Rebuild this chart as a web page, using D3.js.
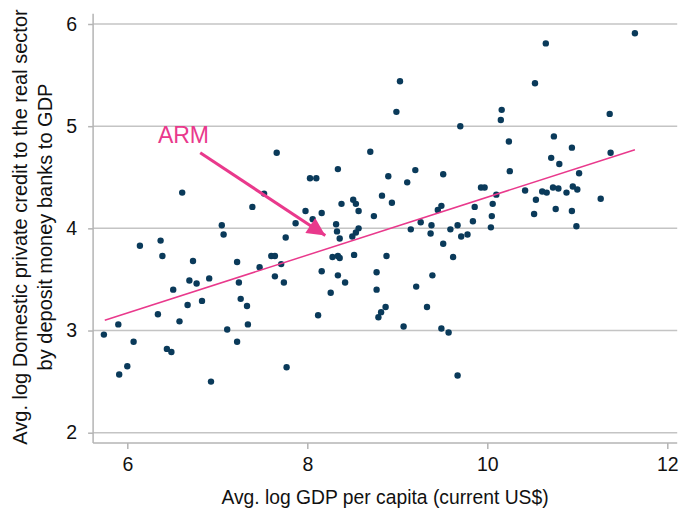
<!DOCTYPE html>
<html>
<head>
<meta charset="utf-8">
<script src="https://cdn.jsdelivr.net/npm/d3@7"></script>
<style>
  body { margin: 0; background: #fff; }
  text { font-family: "Liberation Sans", Arial, sans-serif; }
</style>
</head>
<body>
<div id="chart"></div>
<script>
// avg log GDP per capita, avg log private credit / GDP (one pair per country)
const gdp = [
  7.66, 6.61, 7.52, 7.39, 7.05, 9.03, 8.99, 9.70, 8.70, 8.34,
  8.03, 8.10, 8.90, 9.20, 9.11, 9.51, 9.93, 9.97, 8.83, 8.94,
  8.38, 8.51, 8.54, 8.57, 8.16, 7.98, 8.06, 7.87, 8.32, 8.57,
  8.74, 9.49, 9.45, 9.86, 9.26, 9.38, 9.67, 9.84, 9.15, 9.59,
  11.64, 10.65, 10.53, 10.16, 10.15, 11.36, 10.74, 10.24, 10.94, 11.37,
  10.71, 10.80, 10.25, 11.02, 10.10, 10.42, 10.54, 10.61, 10.66, 10.73,
  10.79, 10.88, 10.95, 11.00, 11.26, 10.06, 10.05, 10.52, 10.76, 10.94,
  10.04, 10.99, 7.07, 6.14, 6.37, 6.39, 7.76, 7.60, 7.64, 7.71,
  6.73, 7.22, 7.47, 7.64, 7.74, 6.69, 6.77, 6.91, 7.24, 6.51,
  6.83, 7.26, 7.33, 6.67, 6.34, 6.58, 7.34, 5.90, 5.74, 7.11,
  6.07, 7.22, 6.44, 6.49, 6.00, 5.91, 6.93, 7.77, 8.33, 8.36,
  8.54, 8.50, 9.37, 9.71, 9.78, 9.51, 9.62, 8.28, 8.34, 8.36,
  8.52, 8.88, 8.16, 8.77, 9.39, 8.34, 8.42, 8.26, 8.77, 9.21,
  8.87, 8.82, 8.79, 8.12, 9.33, 9.07, 9.49, 9.57, 9.67
];
const credit = [
  4.74, 4.35, 4.34, 4.21, 4.03, 5.44, 5.14, 5.00, 4.75, 4.58,
  4.49, 4.49, 4.51, 4.57, 4.45, 4.53, 4.40, 4.40, 4.32, 4.25,
  4.24, 4.28, 4.24, 4.17, 4.15, 4.17, 4.09, 4.05, 4.04, 4.00,
  4.12, 4.22, 4.18, 4.21, 4.06, 4.03, 4.03, 4.07, 3.99, 3.99,
  5.91, 5.81, 5.42, 5.16, 5.06, 5.12, 4.90, 4.85, 4.79, 4.74,
  4.69, 4.63, 4.56, 4.54, 4.33, 4.37, 4.28, 4.36, 4.35, 4.40,
  4.39, 4.35, 4.41, 4.38, 4.29, 4.24, 4.12, 4.14, 4.19, 4.17,
  4.01, 4.02, 3.94, 3.83, 3.88, 3.73, 3.91, 3.73, 3.73, 3.65,
  3.68, 3.67, 3.62, 3.53, 3.47, 3.49, 3.46, 3.51, 3.47, 3.40,
  3.29, 3.31, 3.24, 3.25, 3.16, 3.09, 3.06, 3.06, 2.96, 3.01,
  2.89, 2.89, 2.82, 2.79, 2.65, 2.57, 2.50, 2.64, 3.97, 3.90,
  3.96, 3.92, 3.95, 3.92, 3.94, 3.85, 3.72, 3.72, 3.73, 3.71,
  3.74, 3.73, 3.58, 3.57, 3.54, 3.54, 3.47, 3.37, 3.40, 3.43,
  3.23, 3.18, 3.13, 3.15, 3.23, 3.04, 3.02, 2.98, 2.56
];

// linear fit, drawn between these two points
const fitX = [5.75, 11.64];
const fitY = [3.10, 4.77];

const xTicks = [6, 8, 10, 12];
const yTicks = [2, 3, 4, 5, 6];
const xLim = [5.62, 12.11];
const yLim = [1.9, 6.1];

// annotation: label position, arrow start, arrow tip (data units)
const armLabel = { text: "ARM", x: 6.34, y: 4.84 };
const armArrow = [[6.81, 4.74], [8.2, 3.93]];

const navy = "#0a3a5a";
const pink = "#e9398c";
const grey = "#b4b4b4";

const width = 691, height = 512;

const svg = d3.select("#chart").append("svg")
  .attr("width", width)
  .attr("height", height);

const x = d3.scaleLinear().domain([6, 12]).range([127.3, 667.3]);
const y = d3.scaleLinear().domain([2, 6]).range([432.7, 24]);

// gridlines
svg.append("g")
  .selectAll("line")
  .data(yTicks)
  .enter()
  .append("line")
  .attr("x1", x(xLim[0]))
  .attr("x2", x(xLim[1]))
  .attr("y1", (d) => y(d))
  .attr("y2", (d) => y(d))
  .attr("stroke", "#c4c4c4")
  .attr("stroke-width", 1.5);

// y axis
const yAxis = svg.append("g")
  .attr("transform", `translate(${x(xLim[0])},0)`)
  .call(d3.axisLeft(y).tickValues(yTicks).tickFormat(d3.format("d")).tickSize(5).tickPadding(11));
yAxis.select(".domain").remove();
yAxis.append("line")
  .attr("y1", y(yLim[1]))
  .attr("y2", y(yLim[0]))
  .attr("stroke", grey)
  .attr("stroke-width", 1.5);

// x axis
const xAxis = svg.append("g")
  .attr("transform", `translate(0,${y(yLim[0])})`)
  .call(d3.axisBottom(x).tickValues(xTicks).tickFormat(d3.format("d")).tickSize(6).tickPadding(8));
xAxis.select(".domain").remove();
xAxis.append("line")
  .attr("x1", x(xLim[0]))
  .attr("x2", x(xLim[1]))
  .attr("stroke", grey)
  .attr("stroke-width", 1.5);

svg.selectAll(".tick line").attr("stroke", grey).attr("stroke-width", 1.5);
svg.selectAll(".tick text")
  .attr("fill", "#111")
  .style("font-size", "19.5px")
  .style("font-family", "Liberation Sans, Arial, sans-serif");

// axis titles
svg.append("text")
  .attr("x", 385)
  .attr("y", 504)
  .attr("text-anchor", "middle")
  .style("font-size", "19.3px")
  .attr("fill", "#111")
  .text("Avg. log GDP per capita (current US$)");

const yTitle = svg.append("text")
  .attr("transform", "translate(27,227) rotate(-90)")
  .attr("text-anchor", "middle")
  .style("font-size", "20px")
  .attr("fill", "#111");
yTitle.append("tspan").attr("x", 0).attr("y", 0)
  .text("Avg. log Domestic private credit to the real sector");
yTitle.append("tspan").attr("x", 0).attr("y", 25)
  .text("by deposit money banks to GDP");

// points
svg.append("g")
  .selectAll("circle")
  .data(d3.range(gdp.length))
  .enter()
  .append("circle")
  .attr("cx", (i) => x(gdp[i]))
  .attr("cy", (i) => y(credit[i]))
  .attr("r", 3.2)
  .attr("fill", navy);

// fitted line
svg.append("line")
  .attr("x1", x(fitX[0]))
  .attr("y1", y(fitY[0]))
  .attr("x2", x(fitX[1]))
  .attr("y2", y(fitY[1]))
  .attr("stroke", pink)
  .attr("stroke-width", 1.5);

// ARM annotation
svg.append("defs").append("marker")
  .attr("id", "head")
  .attr("viewBox", "0 0 10 10")
  .attr("refX", 10)
  .attr("refY", 5)
  .attr("markerWidth", 8)
  .attr("markerHeight", 6)
  .attr("markerUnits", "strokeWidth")
  .attr("orient", "auto")
  .append("path")
  .attr("d", "M0,0 L10,5 L0,10 Z")
  .attr("fill", pink);

svg.append("line")
  .attr("x1", x(armArrow[0][0]))
  .attr("y1", y(armArrow[0][1]))
  .attr("x2", x(armArrow[1][0]))
  .attr("y2", y(armArrow[1][1]))
  .attr("stroke", pink)
  .attr("stroke-width", 3)
  .attr("marker-end", "url(#head)");

svg.append("text")
  .attr("x", x(armLabel.x))
  .attr("y", y(armLabel.y))
  .style("font-size", "23px")
  .attr("fill", pink)
  .text(armLabel.text);
</script>
</body>
</html>
